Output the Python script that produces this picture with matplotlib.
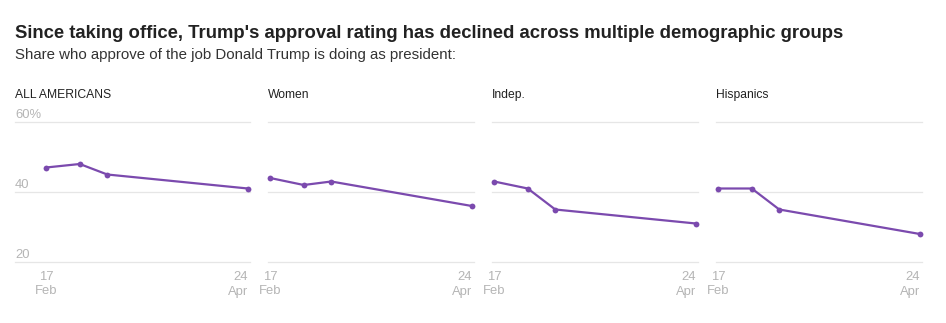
import matplotlib
matplotlib.use("Agg")
import matplotlib.pyplot as plt
import matplotlib.dates as mdates
import datetime as dt

plt.rcParams['font.family'] = ['Liberation Sans', 'DejaVu Sans']

# ---- data ----
dates = ["2025-02-17", "2025-02-28", "2025-03-09", "2025-04-24"]
groups = ["ALL AMERICANS", "Women", "Indep.", "Hispanics"]
all_americans = [47, 48, 45, 41]
women = [44, 42, 43, 36]
indep = [43, 41, 35, 31]
hispanics = [41, 41, 35, 28]
series = [all_americans, women, indep, hispanics]
y_ticks = [20, 40, 60]
y_tick_labels = ["20", "40", "60%"]
x_tick_days = ["17", "24"]
x_tick_months = ["Feb", "Apr"]

title = "Since taking office, Trump's approval rating has declined across multiple demographic groups"
subtitle = "Share who approve of the job Donald Trump is doing as president:"

W, H = 946, 323
fig = plt.figure(figsize=(W / 100, H / 100), dpi=100)

def fx(px):
    return px / W

def fy(py):
    return 1 - py / H

x = [mdates.date2num(dt.datetime.strptime(d, "%Y-%m-%d")) for d in dates]
pad = 0.7
xlim = (x[0] - pad, x[-1] + pad)

purple = "#7b4aae"
grid_c = "#e6e6e6"
tick_c = "#b5b5b5"

lefts = [44, 268, 492, 716]
title_x = [15, 268, 492, 716]
ax_w = 206
top, bottom = 122, 262
tick_fs = 9.4

fig.text(fx(15), fy(37.5), title, fontsize=13.35, fontweight='bold', color='#222222', va='baseline')
fig.text(fx(15), fy(59.5), subtitle, fontsize=10.8, color='#333333', va='baseline')

for i, (name, vals) in enumerate(zip(groups, series)):
    ax = fig.add_axes([fx(lefts[i]), fy(bottom), fx(ax_w), (bottom - top) / H])
    ax.set_xlim(*xlim)
    ax.set_ylim(20, 60)
    ax.axis('off')
    ext = -(lefts[i] - title_x[i]) / ax_w
    for yt in y_ticks:
        ax.axhline(yt, xmin=ext, xmax=1, color=grid_c, lw=0.9, clip_on=False, zorder=0)
    ax.plot(x, vals, color=purple, lw=1.6, marker='o', markersize=4.2,
            markeredgewidth=0, solid_capstyle='round', zorder=3, clip_on=False)
    fig.text(fx(title_x[i]), fy(98.3), name, fontsize=8.7, color='#222222', va='baseline')
    if i == 0:
        for yt, lab in zip(y_ticks, y_tick_labels):
            ypx = top + (60 - yt) / 40 * (bottom - top)
            fig.text(fx(15), fy(ypx - 3.7), lab, fontsize=tick_fs, color=tick_c, va='baseline')
    # x tick labels
    x0_px = lefts[i] + (x[0] - xlim[0]) / (xlim[1] - xlim[0]) * ax_w
    x1_px = lefts[i] + (x[-1] - xlim[0]) / (xlim[1] - xlim[0]) * ax_w
    fig.text(fx(x0_px), fy(279.5), x_tick_days[0], fontsize=tick_fs, color=tick_c, ha='center', va='baseline')
    fig.text(fx(x0_px), fy(294.5), x_tick_months[0], fontsize=tick_fs, color=tick_c, ha='center', va='baseline')
    fig.text(fx(x1_px + 0.5), fy(279.5), x_tick_days[1], fontsize=tick_fs, color=tick_c, ha='right', va='baseline')
    fig.text(fx(x1_px + 0.5), fy(294.5), x_tick_months[1], fontsize=tick_fs, color=tick_c, ha='right', va='baseline')

fig.savefig("out.png", dpi=100, facecolor='white')
